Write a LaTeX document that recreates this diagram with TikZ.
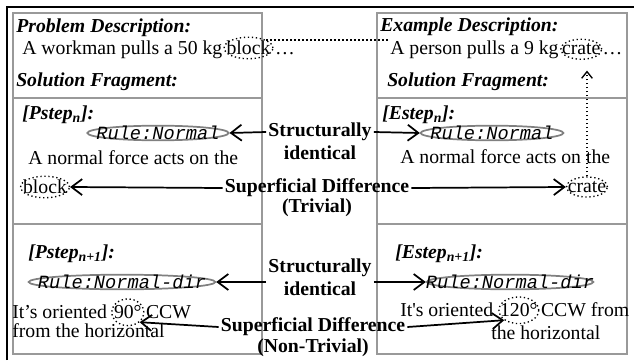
\documentclass[tikz,border=0pt]{standalone}
\usepackage{fontspec}
\setmainfont{Liberation Serif}
\setmonofont{Liberation Mono}
\usetikzlibrary{arrows.meta,shapes.geometric}

\newcommand\bodyfont{\fontsize{14.8}{17}\selectfont}
\newcommand\rulefont{\fontsize{14}{15}\selectfont\ttfamily\itshape}

\begin{document}
\begin{tikzpicture}[
    x=0.75pt, y=-0.75pt,
    outerframe/.style={draw=black, line width=1.1pt},
    panel/.style={draw=gray!80, line width=1.5pt},
    txt/.style={font=\bodyfont, inner sep=0pt, anchor=west},
    head/.style={txt, font=\bodyfont\bfseries\itshape},
    mid/.style={font=\bodyfont\bfseries, inner sep=1.5pt},
    rule/.style={draw=gray, line width=1.3pt, ellipse, font=\rulefont,
                 inner xsep=-20pt, inner ysep=-4pt, minimum height=11pt, minimum width=#1},
    ring/.style={draw, dotted, line width=1pt, ellipse, font=\bodyfont,
                 inner xsep=-3.5pt, inner ysep=0.5pt, minimum height=15pt},
    degring/.style={ring, minimum width=24pt, minimum height=20pt},
    link/.style={-{Straight Barb[length=8pt, width=12pt]}, line width=1.3pt},
    dotlink/.style={dotted, line width=1pt}
]
\useasboundingbox (0,0) rectangle (634,360);

\def\topline{13}    % top of both panels
\def\botline{354}   % bottom of both panels
\def\cutA{98}       % description / step n
\def\cutB{224}      % step n / step n+1

% ── Frame and the two panels ─────────────────────────────────────────────────
\draw[outerframe] (7,360) |- (634,7);
\foreach \a/\b in {13/262, 377/627} {
    \draw[panel] (\a,\topline) rectangle (\b,\botline);
    \draw[panel] (\a,\cutA) -- (\b,\cutA);
    \draw[panel] (\a,\cutB) -- (\b,\cutB);
}

% ── Left panel: problem ──────────────────────────────────────────────────────
\node[head] (probHead) at (16,28) {Problem Description:};
\node[txt] (probTxt) at (22,50) {A workman pulls a 50 kg};
\node[ring, anchor=text] (blockA) at ([xshift=3pt]probTxt.base east) {block};
\node[txt, anchor=base west] (dotsA) at ([xshift=1pt]blockA.east |- probTxt.base) {\ldots};
\node[head] (solHeadP) at (16,82) {Solution Fragment:};

\node[head] (stepP) at (22,115) {[Pstep\textsubscript{n}]:};
\node[rule=106pt] (ruleP) at (158,133) {Rule:Normal};
\node[txt] (normP) at (28,158) {A normal force acts on the};
\node[ring] (blockB) at (45,187) {block};

\node[head] (stepP2) at (28,254) {[Pstep\textsubscript{n+1}]:};
\node[rule=140pt] (ruleP2) at (122,282) {Rule:Normal-dir};
\node[txt] (orientP) at (12,312) {It’s oriented};
\node[degring, anchor=text] (deg90) at ([xshift=5pt]orientP.base east) {90°};
\node[txt, anchor=base west] (ccwP) at ([xshift=1pt]deg90.east |- orientP.base) {CCW};
\node[txt] (horizP) at (12,331) {from the horizontal};

% ── Right panel: example ─────────────────────────────────────────────────────
\node[head] (exHead) at (380,27) {Example Description:};
\node[txt] (exTxt) at (390,50) {A person pulls a 9 kg};
\node[ring, anchor=text] (crateA) at ([xshift=2.5pt]exTxt.base east) {crate};
\node[txt, anchor=base west] (dotsE) at ([xshift=0pt]crateA.east |- exTxt.base) {\ldots};
\node[head] (solHeadE) at (387,82) {Solution Fragment:};

\node[head] (stepE) at (382,115) {[Estep\textsubscript{n}]:};
\node[rule=107pt] (ruleE) at (492,133) {Rule:Normal};
\node[txt] (normE) at (400,157) {A normal force acts on the};
\node[ring] (crateB) at (587,187) {crate};

\node[head] (stepE2) at (395,254) {[Estep\textsubscript{n+1}]:};
\node[rule=125pt] (ruleE2) at (510,282) {Rule:Normal-dir};
\node[txt] (orientE) at (400,310) {It\textquotesingle s oriented};
\node[degring, anchor=text] (deg120) at ([xshift=5pt]orientE.base east) {120°};
\node[txt, anchor=base west] (ccwE) at ([xshift=1pt]deg120.east |- orientE.base) {CCW from};
\node[txt] (horizE) at (491,333) {the horizontal};

% ── Middle labels ────────────────────────────────────────────────────────────
\node[mid] (structA) at (320,132) {Structurally};
\node[mid] (identA) at (320,153) {identical};
\node[mid] (supA) at (317,188) {Superficial Difference};
\node[mid] (trivA) at (317,208) {(Trivial)};
\node[mid] (structB) at (320,268) {Structurally};
\node[mid] (identB) at (320,289) {identical};
\node[mid] (supB) at (313,327) {Superficial Difference};
\node[mid] (nontrivB) at (313,348) {(Non-Trivial)};

% ── Connectors ───────────────────────────────────────────────────────────────
\draw[link] (structA.west) -- (ruleP.east);
\draw[link] (structA.east) -- (ruleE.west);
\draw[link] (supA.west) -- (blockB.east);
\draw[link] (supA.east) -- (crateB.west);
\draw[link] (ruleP2.east -| structB.west) -- (ruleP2.east);
\draw[link] (ruleE2.west -| structB.east) -- (ruleE2.west);
\draw[link] (supB.west) -- (deg90.south east);
\draw[link] (supB.east) -- (deg120.south west);

\draw[dotlink] (blockA.north east) -- (blockA.north east -| exTxt.west);
\draw[dotlink, -{Straight Barb[length=5pt, width=8pt]}, shorten >=8pt]
    (crateB.north) -- (crateB.north |- crateA.south);

\end{tikzpicture}
\end{document}
